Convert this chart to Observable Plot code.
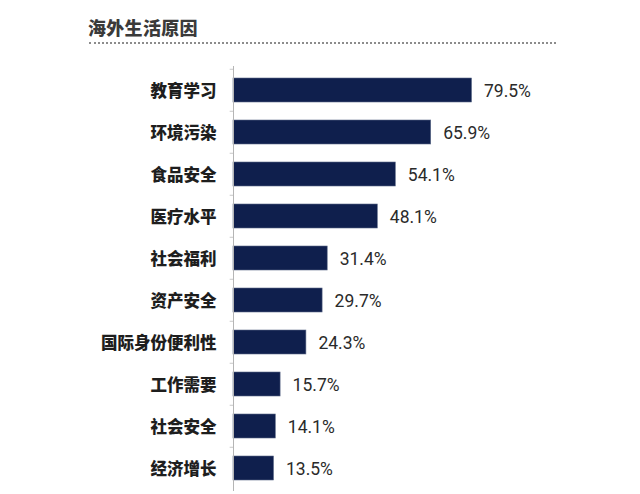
<!DOCTYPE html>
<html>
<head>
<meta charset="utf-8">
<script src="https://cdn.jsdelivr.net/npm/d3@7"></script>
<script src="https://cdn.jsdelivr.net/npm/@observablehq/plot@0.6"></script>
<style>
  html, body { margin: 0; padding: 0; background: #fff; }
  #wrap { position: relative; width: 640px; height: 494px; overflow: hidden; }
  #title { position: absolute; left: 88px; top: 14px; font-family: "Noto Sans CJK SC", sans-serif; font-weight: 900; font-size: 18px; color: #3a3a3a; line-height: 26px; letter-spacing: 0.3px; }
  #rule { position: absolute; left: 89px; top: 42px; width: 467px; height: 0; border-top: 2px dotted #8c8c8c; }
  #chart { position: absolute; left: 0; top: 50px; }
</style>
</head>
<body>
<div id="wrap">
  <div id="title">海外生活原因</div>
  <div id="rule"></div>
  <div id="chart"></div>
</div>
<script>
const categories = ["教育学习", "环境污染", "食品安全", "医疗水平", "社会福利", "资产安全", "国际身份便利性", "工作需要", "社会安全", "经济增长"];
const values = [79.5, 65.9, 54.1, 48.1, 31.4, 29.7, 24.3, 15.7, 14.1, 13.5];

const data = categories.map((c, i) => ({reason: c, value: values[i]}));

const chart = Plot.plot({
  width: 640,
  height: 444,
  marginLeft: 233,
  marginRight: 107,
  marginTop: 16,
  marginBottom: 3,
  x: {domain: [0, 100], axis: null},
  y: {domain: categories, axis: null, paddingInner: 0.436, paddingOuter: 0.218},
  style: {background: "transparent"},
  marks: [
    Plot.barX(data, {x: "value", y: "reason", fill: "#0f1f4d", stroke: "#5d6a88", strokeWidth: 0.6}),
    Plot.ruleX([0], {stroke: "#b5b5b5", strokeWidth: 1}),
    Plot.ruleY(categories, {y: d => d, x1: -1.1, x2: 0, dy: -21.25, stroke: "#c8c8c8", strokeWidth: 1}),
    Plot.text(data, {x: 0, y: "reason", text: "reason", textAnchor: "end", dx: -17, dy: 1, fontSize: 16.5, fontWeight: 900, fill: "#1e1e1e", fontFamily: "Noto Sans CJK SC"}),
    Plot.text(data, {x: "value", y: "reason", text: d => d.value.toFixed(1) + "%", textAnchor: "start", dx: 12, dy: 1, fontSize: 17.5, fill: "#2a2a2a", fontFamily: "Roboto, sans-serif"})
  ]
});
document.getElementById("chart").appendChild(chart);
</script>
</body>
</html>
